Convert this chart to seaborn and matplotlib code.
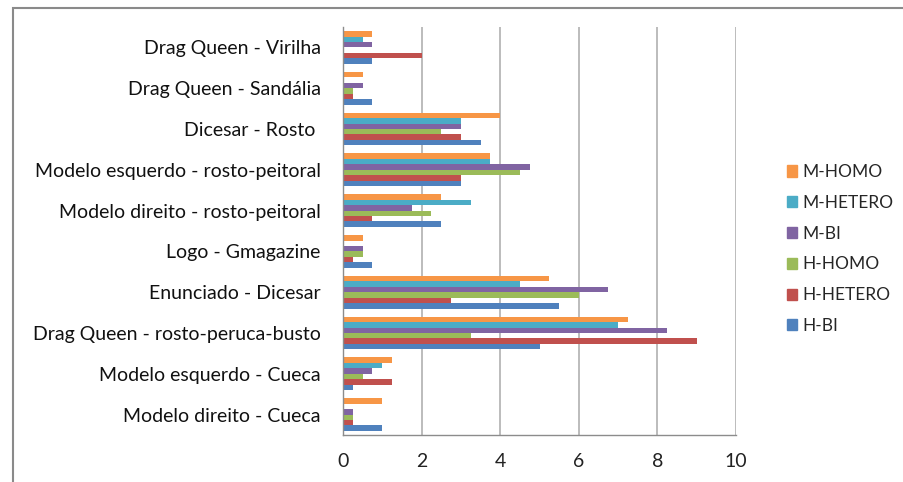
import matplotlib
matplotlib.use("Agg")
import matplotlib.pyplot as plt
import matplotlib.patches as mpatches
import seaborn as sns
import pandas as pd

categories = [
    "Drag Queen - Virilha",
    "Drag Queen - Sandália",
    "Dicesar - Rosto ",
    "Modelo esquerdo - rosto-peitoral",
    "Modelo direito - rosto-peitoral",
    "Logo - Gmagazine",
    "Enunciado - Dicesar",
    "Drag Queen - rosto-peruca-busto",
    "Modelo esquerdo - Cueca",
    "Modelo direito - Cueca",
]

m_homo = [0.75, 0.5, 4.0, 3.75, 2.5, 0.5, 5.25, 7.25, 1.25, 1.0]
m_hetero = [0.5, 0.0, 3.0, 3.75, 3.25, 0.0, 4.5, 7.0, 1.0, 0.0]
m_bi = [0.75, 0.5, 3.0, 4.75, 1.75, 0.5, 6.75, 8.25, 0.75, 0.25]
h_homo = [0.0, 0.25, 2.5, 4.5, 2.25, 0.5, 6.0, 3.25, 0.5, 0.25]
h_hetero = [2.0, 0.25, 3.0, 3.0, 0.75, 0.25, 2.75, 9.0, 1.25, 0.25]
h_bi = [0.75, 0.75, 3.5, 3.0, 2.5, 0.75, 5.5, 5.0, 0.25, 1.0]

series_names = ["M-HOMO", "M-HETERO", "M-BI", "H-HOMO", "H-HETERO", "H-BI"]
series_values = [m_homo, m_hetero, m_bi, h_homo, h_hetero, h_bi]
series_colors = ["#F79646", "#4BACC6", "#8064A2", "#9BBB59", "#C0504D", "#4F81BD"]

x_ticks = [0, 2, 4, 6, 8, 10]

rows = []
for name, vals in zip(series_names, series_values):
    for cat, v in zip(categories, vals):
        rows.append({"categoria": cat, "grupo": name, "valor": v})
df = pd.DataFrame(rows)

sns.set_style("white")
plt.rcParams["font.family"] = ["Lato", "DejaVu Sans"]

fig = plt.figure(figsize=(9.04, 4.82), dpi=100)
ax = fig.add_axes([343 / 904, 1 - 435 / 482, (736 - 343) / 904, (435 - 27) / 482])

sns.barplot(
    data=df, x="valor", y="categoria", hue="grupo",
    order=categories, hue_order=series_names,
    palette=dict(zip(series_names, series_colors)),
    orient="h", width=0.8, linewidth=0, saturation=1,
    legend=True, ax=ax,
)

ax.set_xlim(0, 10)
ax.set_ylim(len(categories) - 0.5, -0.5)
ax.set_xticks(x_ticks)
ax.set_xticklabels([str(t) for t in x_ticks], fontsize=14, color="#222222")
ax.tick_params(axis="x", length=0, pad=13)
ax.tick_params(axis="y", which="major", length=0, pad=16, labelsize=14, labelcolor="#111111")
ax.set_yticks([i - 0.5 for i in range(len(categories) + 1)], minor=True)
ax.tick_params(axis="y", which="minor", length=5, color="#808080", width=1)
ax.set_xlabel("")
ax.set_ylabel("")

ax.grid(axis="x", color="#b0b0b0", linewidth=1.2)
ax.set_axisbelow(True)
for side in ["top", "right"]:
    ax.spines[side].set_visible(False)
for side in ["left", "bottom"]:
    ax.spines[side].set_color("#8c8c8c")
    ax.spines[side].set_linewidth(1)

handles = [mpatches.Patch(color=c, label=n) for n, c in zip(series_names, series_colors)]
ax.legend(
    handles=handles, loc="center left", bbox_to_anchor=(771 / 904, 1 - 249 / 482),
    bbox_transform=fig.transFigure, frameon=False, fontsize=12.5,
    handlelength=0.6, handleheight=0.6, handletextpad=0.3, labelspacing=0.85,
)

# outer chart frame
fig.patches.append(mpatches.Rectangle(
    (13 / 904, -0.02), 1.0, 1 - 8 / 482 + 0.02, transform=fig.transFigure,
    fill=False, edgecolor="#8a8a8a", linewidth=1.5))

fig.savefig("out.png", dpi=100)
